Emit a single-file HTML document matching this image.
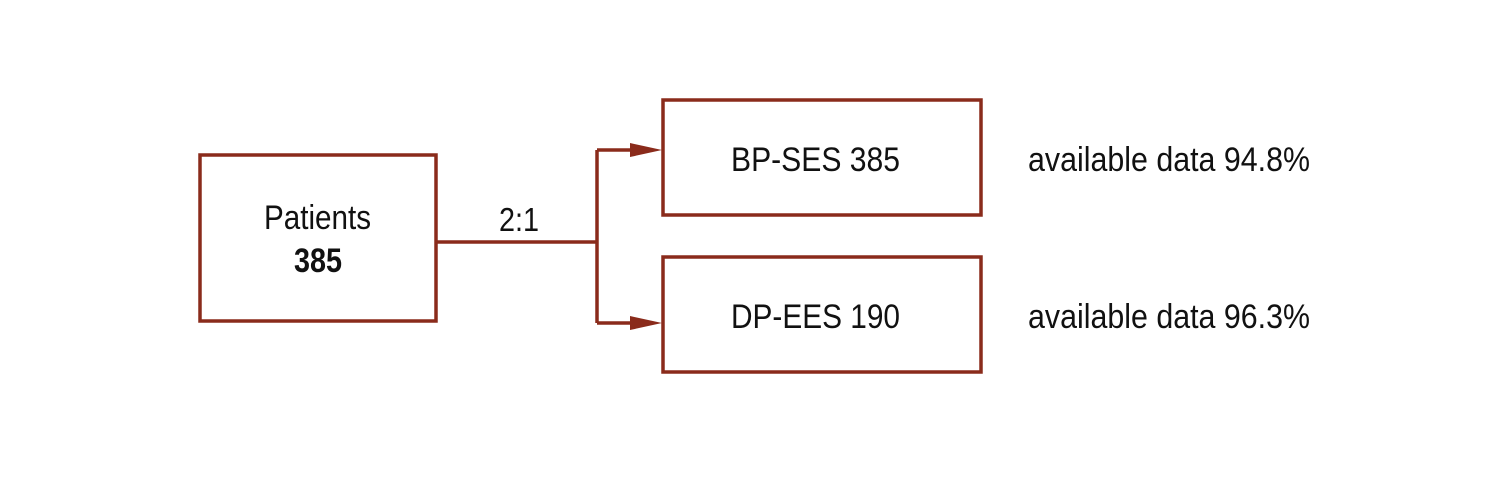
<!DOCTYPE html>
<html><head><style>
html,body{margin:0;padding:0;background:#fff;width:1512px;height:481px;overflow:hidden}
svg text{font-family:"Liberation Sans",sans-serif;fill:#111}
</style></head><body>
<svg width="1512" height="481" viewBox="0 0 1512 481">
<g fill="none" stroke="#8a2b1b" stroke-width="3.5">
<rect x="200" y="155" width="236" height="166"/>
<rect x="663" y="100" width="318" height="115"/>
<rect x="663" y="257" width="318" height="115"/>
<path d="M436 242 H597 M597 150 V323 M597 150 H632 M597 323 H632"/>
</g>
<g fill="#8a2b1b">
<polygon points="630,143 662,150 630,157"/>
<polygon points="630,316 662,323 630,330"/>
</g>
<text x="264" y="229" font-size="34" textLength="107" lengthAdjust="spacingAndGlyphs">Patients</text>
<text x="294" y="272" font-size="34" font-weight="bold" textLength="48" lengthAdjust="spacingAndGlyphs">385</text>
<text x="499" y="231" font-size="33" textLength="40" lengthAdjust="spacingAndGlyphs">2:1</text>
<text x="731" y="171" font-size="34" textLength="169" lengthAdjust="spacingAndGlyphs">BP-SES 385</text>
<text x="731" y="328" font-size="34" textLength="169" lengthAdjust="spacingAndGlyphs">DP-EES 190</text>
<text x="1028" y="171" font-size="34" textLength="282" lengthAdjust="spacingAndGlyphs">available data 94.8%</text>
<text x="1028" y="328" font-size="34" textLength="282" lengthAdjust="spacingAndGlyphs">available data 96.3%</text>
</svg>
</body></html>
